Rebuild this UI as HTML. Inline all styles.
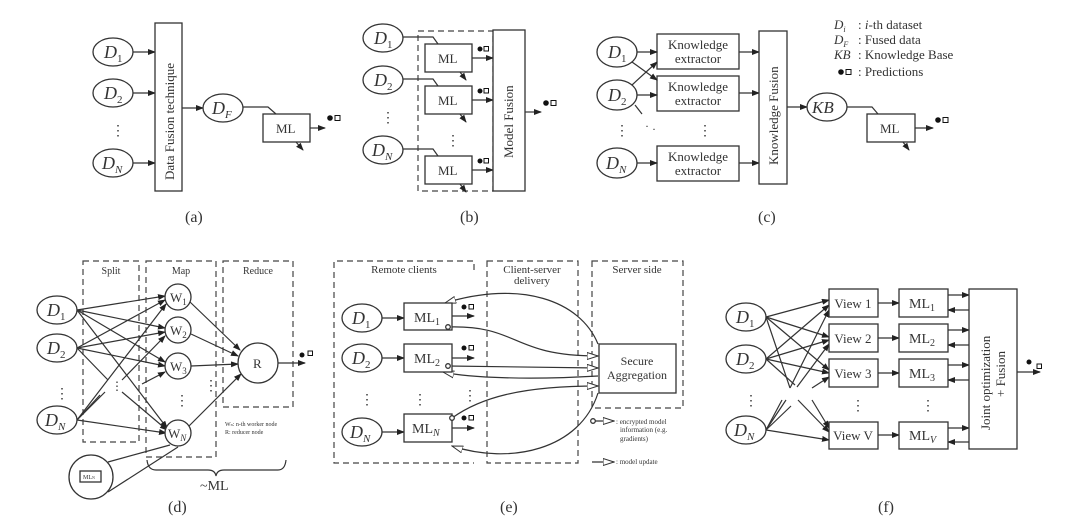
<!DOCTYPE html>
<html><head><meta charset="utf-8"><style>
body{margin:0;background:#fff}
svg{display:block;font-family:"Liberation Serif",serif;fill:#333}
.l{stroke:#333;stroke-width:1.2;fill:none}
.d{stroke:#444;stroke-width:1.2;fill:none;stroke-dasharray:6 4}
.b{stroke:#333;stroke-width:1.3;fill:#fff}
text{fill:#333}
</style></head><body>
<svg width="1080" height="532" viewBox="0 0 1080 532">
<defs>
<marker id="a" markerWidth="8" markerHeight="6" refX="7" refY="3" orient="auto" markerUnits="userSpaceOnUse"><path d="M0,0L8,3L0,6z" fill="#222"/></marker>
<marker id="o" markerWidth="12" markerHeight="8" refX="11" refY="4" orient="auto" markerUnits="userSpaceOnUse"><path d="M0,0.5L11,4L0,7.5z" fill="#fff" stroke="#333"/></marker>
</defs>
<g id="pred"></g>

<!-- (a) -->
<g>
<ellipse class="b" cx="113" cy="52" rx="20" ry="14"/><text x="104" y="58" font-size="18" font-style="italic">D<tspan font-size="11" font-style="normal" dy="4">1</tspan></text>
<ellipse class="b" cx="113" cy="93" rx="20" ry="14"/><text x="104" y="99" font-size="18" font-style="italic">D<tspan font-size="11" font-style="normal" dy="4">2</tspan></text>
<ellipse class="b" cx="113" cy="163" rx="20" ry="14"/><text x="102" y="169" font-size="18" font-style="italic">D<tspan font-size="11" dy="4">N</tspan></text>
<text x="111" y="135" font-size="14">⋮</text>
<line class="l" x1="133" y1="52" x2="155" y2="52" marker-end="url(#a)"/>
<line class="l" x1="133" y1="93" x2="155" y2="93" marker-end="url(#a)"/>
<line class="l" x1="133" y1="163" x2="155" y2="163" marker-end="url(#a)"/>
<rect class="b" x="155" y="23" width="27" height="168"/>
<text transform="translate(174,180) rotate(-90)" font-size="13">Data Fusion technique</text>
<line class="l" x1="182" y1="108" x2="203" y2="108" marker-end="url(#a)"/>
<ellipse class="b" cx="223" cy="108" rx="20" ry="14"/><text x="212" y="114" font-size="18" font-style="italic">D<tspan font-size="11" dy="4">F</tspan></text>
<path class="l" d="M243,107H268L276,114"/>
<rect class="b" x="263" y="114" width="47" height="28"/><text x="276" y="133" font-size="13">ML</text>
<line class="l" x1="296" y1="142" x2="303" y2="150" marker-end="url(#a)"/>
<line class="l" x1="310" y1="128" x2="325" y2="128" marker-end="url(#a)"/>
<circle cx="330" cy="118" r="2.8" fill="#111"/><rect x="335" y="115.5" width="5" height="5" fill="none" stroke="#111"/>
<text x="185" y="222" font-size="16">(a)</text>
</g>

<!-- (b) -->
<g>
<ellipse class="b" cx="383" cy="38" rx="20" ry="14"/><text x="374" y="44" font-size="18" font-style="italic">D<tspan font-size="11" font-style="normal" dy="4">1</tspan></text>
<ellipse class="b" cx="383" cy="80" rx="20" ry="14"/><text x="374" y="86" font-size="18" font-style="italic">D<tspan font-size="11" font-style="normal" dy="4">2</tspan></text>
<ellipse class="b" cx="383" cy="150" rx="20" ry="14"/><text x="372" y="156" font-size="18" font-style="italic">D<tspan font-size="11" dy="4">N</tspan></text>
<text x="381" y="122" font-size="14">⋮</text>
<rect class="d" x="418" y="31" width="75" height="160"/>
<rect class="b" x="425" y="44" width="47" height="28"/><text x="438" y="63" font-size="13">ML</text>
<rect class="b" x="425" y="86" width="47" height="28"/><text x="438" y="105" font-size="13">ML</text>
<rect class="b" x="425" y="156" width="47" height="28"/><text x="438" y="175" font-size="13">ML</text>
<text x="446" y="145" font-size="14">⋮</text>
<path class="l" d="M403,37H433L438,44"/><path class="l" d="M403,79H433L438,86"/><path class="l" d="M403,149H433L438,156"/>
<line class="l" x1="460" y1="72" x2="466" y2="80" marker-end="url(#a)"/><line class="l" x1="460" y1="114" x2="466" y2="122" marker-end="url(#a)"/><line class="l" x1="460" y1="184" x2="466" y2="192" marker-end="url(#a)"/>
<line class="l" x1="472" y1="58" x2="493" y2="58" marker-end="url(#a)"/><line class="l" x1="472" y1="100" x2="493" y2="100" marker-end="url(#a)"/><line class="l" x1="472" y1="170" x2="493" y2="170" marker-end="url(#a)"/>
<circle cx="480" cy="49" r="2.5" fill="#111"/><rect x="484" y="46.5" width="4.5" height="4.5" fill="none" stroke="#111"/>
<circle cx="480" cy="91" r="2.5" fill="#111"/><rect x="484" y="88.5" width="4.5" height="4.5" fill="none" stroke="#111"/>
<circle cx="480" cy="161" r="2.5" fill="#111"/><rect x="484" y="158.5" width="4.5" height="4.5" fill="none" stroke="#111"/>
<rect class="b" x="493" y="30" width="32" height="161"/>
<text transform="translate(513,158) rotate(-90)" font-size="13">Model Fusion</text>
<line class="l" x1="525" y1="112" x2="541" y2="112" marker-end="url(#a)"/>
<circle cx="546" cy="103" r="2.8" fill="#111"/><rect x="551" y="100.5" width="5" height="5" fill="none" stroke="#111"/>
<text x="460" y="222" font-size="16">(b)</text>
</g>

<!-- (c) -->
<g>
<ellipse class="b" cx="617" cy="52" rx="20" ry="15"/><text x="608" y="58" font-size="18" font-style="italic">D<tspan font-size="11" font-style="normal" dy="4">1</tspan></text>
<ellipse class="b" cx="617" cy="95" rx="20" ry="15"/><text x="608" y="101" font-size="18" font-style="italic">D<tspan font-size="11" font-style="normal" dy="4">2</tspan></text>
<ellipse class="b" cx="617" cy="163" rx="20" ry="15"/><text x="606" y="169" font-size="18" font-style="italic">D<tspan font-size="11" dy="4">N</tspan></text>
<text x="615" y="135" font-size="14">⋮</text>
<rect class="b" x="657" y="34" width="82" height="35"/><text x="698" y="49" font-size="13" text-anchor="middle">Knowledge</text><text x="698" y="63" font-size="13" text-anchor="middle">extractor</text>
<rect class="b" x="657" y="76" width="82" height="35"/><text x="698" y="91" font-size="13" text-anchor="middle">Knowledge</text><text x="698" y="105" font-size="13" text-anchor="middle">extractor</text>
<rect class="b" x="657" y="146" width="82" height="35"/><text x="698" y="161" font-size="13" text-anchor="middle">Knowledge</text><text x="698" y="175" font-size="13" text-anchor="middle">extractor</text>
<text x="698" y="135" font-size="14">⋮</text>
<line class="l" x1="637" y1="52" x2="657" y2="52" marker-end="url(#a)"/>
<line class="l" x1="637" y1="95" x2="657" y2="95" marker-end="url(#a)"/>
<line class="l" x1="637" y1="163" x2="657" y2="163" marker-end="url(#a)"/>
<line class="l" x1="632" y1="62" x2="657" y2="80" marker-end="url(#a)"/>
<line class="l" x1="632" y1="85" x2="657" y2="62" marker-end="url(#a)"/>
<path d="M635,105L642,114" class="l"/><text x="645" y="130" font-size="12">·</text><text x="652" y="133" font-size="12">·</text>
<line class="l" x1="739" y1="52" x2="759" y2="52" marker-end="url(#a)"/>
<line class="l" x1="739" y1="93" x2="759" y2="93" marker-end="url(#a)"/>
<line class="l" x1="739" y1="163" x2="759" y2="163" marker-end="url(#a)"/>
<rect class="b" x="759" y="31" width="28" height="153"/>
<text transform="translate(778,165) rotate(-90)" font-size="13">Knowledge Fusion</text>
<line class="l" x1="787" y1="107" x2="807" y2="107" marker-end="url(#a)"/>
<ellipse class="b" cx="827" cy="107" rx="20" ry="14"/><text x="812" y="113" font-size="17" font-style="italic">KB</text>
<path class="l" d="M847,107H872L878,114"/>
<rect class="b" x="867" y="114" width="48" height="28"/><text x="880" y="133" font-size="13">ML</text>
<line class="l" x1="903" y1="142" x2="909" y2="150" marker-end="url(#a)"/>
<line class="l" x1="915" y1="128" x2="933" y2="128" marker-end="url(#a)"/>
<circle cx="938" cy="120" r="2.8" fill="#111"/><rect x="943" y="117.5" width="5" height="5" fill="none" stroke="#111"/>
<text x="758" y="222" font-size="16">(c)</text>
<!-- legend -->
<g font-size="13">
<text x="834" y="29" font-style="italic">D<tspan font-size="8" dy="3">i</tspan></text><text x="858" y="29">: <tspan font-style="italic">i</tspan>-th dataset</text>
<text x="834" y="44" font-style="italic">D<tspan font-size="8" dy="3">F</tspan></text><text x="858" y="44">: Fused data</text>
<text x="834" y="59" font-style="italic">KB</text><text x="858" y="59">: Knowledge Base</text>
<circle cx="841" cy="72" r="2.8" fill="#111"/><rect x="846" y="69.5" width="5" height="5" fill="none" stroke="#111"/><text x="858" y="76">: Predictions</text>
</g>
</g>

<!-- (d) -->
<g>
<rect class="d" x="83" y="261" width="56" height="181"/>
<rect class="d" x="146" y="261" width="70" height="196"/>
<rect class="d" x="223" y="261" width="70" height="146"/>
<text x="111" y="274" font-size="10" text-anchor="middle">Split</text>
<text x="181" y="274" font-size="10" text-anchor="middle">Map</text>
<text x="258" y="274" font-size="10" text-anchor="middle">Reduce</text>
<ellipse class="b" cx="57" cy="310" rx="20" ry="14"/><text x="47" y="316" font-size="18" font-style="italic">D<tspan font-size="11" font-style="normal" dy="4">1</tspan></text>
<ellipse class="b" cx="57" cy="348" rx="20" ry="14"/><text x="47" y="354" font-size="18" font-style="italic">D<tspan font-size="11" font-style="normal" dy="4">2</tspan></text>
<ellipse class="b" cx="57" cy="420" rx="20" ry="14"/><text x="45" y="426" font-size="18" font-style="italic">D<tspan font-size="11" dy="4">N</tspan></text>
<text x="55" y="398" font-size="14">⋮</text>
<g class="l">
<line x1="77" y1="310" x2="165" y2="296" marker-end="url(#a)"/><line x1="77" y1="310" x2="165" y2="328" marker-end="url(#a)"/><line x1="77" y1="310" x2="165" y2="362" marker-end="url(#a)"/><line x1="77" y1="310" x2="167" y2="428" marker-end="url(#a)"/>
<line x1="77" y1="348" x2="165" y2="300" marker-end="url(#a)"/><line x1="77" y1="348" x2="165" y2="332" marker-end="url(#a)"/><line x1="77" y1="348" x2="165" y2="366" marker-end="url(#a)"/><line x1="77" y1="348" x2="108" y2="380"/>
<line x1="77" y1="420" x2="166" y2="304" marker-end="url(#a)"/><line x1="77" y1="420" x2="166" y2="433" marker-end="url(#a)"/><line x1="77" y1="420" x2="100" y2="395"/><line x1="77" y1="420" x2="105" y2="392"/>
<line x1="122" y1="380" x2="165" y2="336" marker-end="url(#a)"/><line x1="142" y1="384" x2="165" y2="372" marker-end="url(#a)"/><line x1="122" y1="392" x2="167" y2="430" marker-end="url(#a)"/>
<line x1="190" y1="302" x2="240" y2="350" marker-end="url(#a)"/><line x1="191" y1="334" x2="238" y2="356" marker-end="url(#a)"/><line x1="191" y1="366" x2="238" y2="364" marker-end="url(#a)"/><line x1="189" y1="426" x2="241" y2="374" marker-end="url(#a)"/>
<line x1="278" y1="363" x2="305" y2="363" marker-end="url(#a)"/>
<line x1="108" y1="462" x2="170" y2="445"/><line x1="108" y1="492" x2="178" y2="447"/>
<path d="M147,460Q148,470 156,470H208Q215,470 216,476Q217,470 224,470H278Q285,470 286,460"/>
</g>
<text x="111" y="390" font-size="12">⋮</text><text x="175" y="405" font-size="14">⋮</text><text x="204" y="390" font-size="14">⋮</text>
<circle class="b" cx="178" cy="297" r="13"/><text x="170" y="302" font-size="13">W<tspan font-size="9" dy="3">1</tspan></text>
<circle class="b" cx="178" cy="330" r="13"/><text x="170" y="335" font-size="13">W<tspan font-size="9" dy="3">2</tspan></text>
<circle class="b" cx="178" cy="366" r="13"/><text x="170" y="371" font-size="13">W<tspan font-size="9" dy="3">3</tspan></text>
<circle class="b" cx="178" cy="433" r="13"/><text x="168" y="438" font-size="13">W<tspan font-size="9" font-style="italic" dy="3">N</tspan></text>
<circle class="b" cx="258" cy="363" r="20"/><text x="253" y="368" font-size="13">R</text>
<circle cx="302" cy="355" r="2.5" fill="#111"/><rect x="308" y="351" width="4.5" height="4.5" fill="none" stroke="#111"/>
<text x="225" y="426" font-size="6">W<tspan font-size="4">n</tspan>: n-th worker node</text><text x="225" y="434" font-size="6">R: reducer node</text>
<circle class="b" cx="91" cy="477" r="22" stroke-width="1.8"/><rect x="80" y="471" width="21" height="11" class="b"/><text x="83" y="479" font-size="6">ML<tspan font-size="4">N</tspan></text>
<text x="200" y="490" font-size="14">~ML</text>
<text x="168" y="512" font-size="16">(d)</text>
</g>

<!-- (e) -->
<g>
<path class="d" d="M474,270V261H334V463H474"/>
<rect class="d" x="487" y="261" width="91" height="202"/>
<rect class="d" x="592" y="261" width="91" height="147"/>
<text x="404" y="273" font-size="11" text-anchor="middle">Remote clients</text>
<text x="532" y="273" font-size="11" text-anchor="middle">Client-server</text><text x="532" y="284" font-size="11" text-anchor="middle">delivery</text>
<text x="637" y="273" font-size="11" text-anchor="middle">Server side</text>
<ellipse class="b" cx="362" cy="318" rx="20" ry="14"/><text x="352" y="324" font-size="18" font-style="italic">D<tspan font-size="11" font-style="normal" dy="4">1</tspan></text>
<ellipse class="b" cx="362" cy="358" rx="20" ry="14"/><text x="352" y="364" font-size="18" font-style="italic">D<tspan font-size="11" font-style="normal" dy="4">2</tspan></text>
<ellipse class="b" cx="362" cy="432" rx="20" ry="14"/><text x="350" y="438" font-size="18" font-style="italic">D<tspan font-size="11" dy="4">N</tspan></text>
<text x="360" y="404" font-size="14">⋮</text><text x="413" y="404" font-size="14">⋮</text><text x="463" y="400" font-size="14">⋮</text>
<g class="l">
<line x1="382" y1="318" x2="404" y2="318" marker-end="url(#a)"/><line x1="382" y1="358" x2="404" y2="358" marker-end="url(#a)"/><line x1="382" y1="432" x2="404" y2="432" marker-end="url(#a)"/>
<line x1="452" y1="316" x2="474" y2="316" marker-end="url(#a)"/><line x1="452" y1="358" x2="474" y2="358" marker-end="url(#a)"/><line x1="452" y1="428" x2="474" y2="428" marker-end="url(#a)"/>
<path d="M448,327C520,325 510,356 598,356" marker-end="url(#o)"/>
<path d="M448,366L598,368" marker-end="url(#o)"/>
<path d="M452,418C480,398 520,386 598,386" marker-end="url(#o)"/>
<path d="M598,344C580,300 520,280 445,303" marker-end="url(#o)"/>
<path d="M598,376C530,380 470,378 443,372" marker-end="url(#o)"/>
<path d="M598,393C580,450 510,465 452,446" marker-end="url(#o)"/>
<path d="M595,421H614" marker-end="url(#o)"/><path d="M592,462H614" marker-end="url(#o)"/>
</g>
<rect class="b" x="404" y="303" width="48" height="27"/><text x="414" y="322" font-size="14">ML<tspan font-size="10" dy="3">1</tspan></text>
<rect class="b" x="404" y="344" width="48" height="28"/><text x="414" y="363" font-size="14">ML<tspan font-size="10" dy="3">2</tspan></text>
<rect class="b" x="404" y="414" width="48" height="28"/><text x="412" y="433" font-size="14">ML<tspan font-size="10" font-style="italic" dy="3">N</tspan></text>
<circle cx="448" cy="327" r="2.3" class="b"/><circle cx="448" cy="366" r="2.3" class="b"/><circle cx="452" cy="418" r="2.3" class="b"/><circle cx="593" cy="421" r="2.3" class="b"/>
<circle cx="464" cy="307" r="2.5" fill="#111"/><rect x="469" y="304.5" width="4.5" height="4.5" fill="none" stroke="#111"/>
<circle cx="464" cy="348" r="2.5" fill="#111"/><rect x="469" y="345.5" width="4.5" height="4.5" fill="none" stroke="#111"/>
<circle cx="464" cy="418" r="2.5" fill="#111"/><rect x="469" y="415.5" width="4.5" height="4.5" fill="none" stroke="#111"/>
<rect class="b" x="599" y="344" width="77" height="49"/><text x="637" y="365" font-size="12" text-anchor="middle">Secure</text><text x="637" y="379" font-size="12" text-anchor="middle">Aggregation</text>
<g font-size="7"><text x="616" y="424">: encrypted model</text><text x="620" y="432">information (e.g.</text><text x="620" y="441">gradients)</text><text x="616" y="464">: model update</text></g>
<text x="500" y="512" font-size="16">(e)</text>
</g>

<!-- (f) -->
<g>
<ellipse class="b" cx="746" cy="317" rx="20" ry="14"/><text x="736" y="323" font-size="18" font-style="italic">D<tspan font-size="11" font-style="normal" dy="4">1</tspan></text>
<ellipse class="b" cx="746" cy="359" rx="20" ry="14"/><text x="736" y="365" font-size="18" font-style="italic">D<tspan font-size="11" font-style="normal" dy="4">2</tspan></text>
<ellipse class="b" cx="746" cy="430" rx="20" ry="14"/><text x="734" y="436" font-size="18" font-style="italic">D<tspan font-size="11" dy="4">N</tspan></text>
<text x="744" y="405" font-size="14">⋮</text>
<g class="l">
<line x1="766" y1="317" x2="829" y2="300" marker-end="url(#a)"/><line x1="766" y1="317" x2="829" y2="337" marker-end="url(#a)"/><line x1="766" y1="317" x2="829" y2="370" marker-end="url(#a)"/><line x1="766" y1="317" x2="790" y2="388"/>
<line x1="766" y1="359" x2="829" y2="305" marker-end="url(#a)"/><line x1="766" y1="359" x2="829" y2="340" marker-end="url(#a)"/><line x1="766" y1="359" x2="829" y2="373" marker-end="url(#a)"/><line x1="766" y1="359" x2="795" y2="385"/>
<line x1="766" y1="430" x2="829" y2="440" marker-end="url(#a)"/><line x1="766" y1="430" x2="782" y2="400"/><line x1="766" y1="430" x2="786" y2="400"/><line x1="766" y1="430" x2="791" y2="406"/>
<line x1="790" y1="388" x2="829" y2="310" marker-end="url(#a)"/><line x1="797" y1="387" x2="829" y2="344" marker-end="url(#a)"/><line x1="812" y1="388" x2="829" y2="377" marker-end="url(#a)"/>
<line x1="798" y1="400" x2="829" y2="432" marker-end="url(#a)"/><line x1="812" y1="400" x2="829" y2="428" marker-end="url(#a)"/>
<line x1="878" y1="303" x2="899" y2="303" marker-end="url(#a)"/><line x1="878" y1="338" x2="899" y2="338" marker-end="url(#a)"/><line x1="878" y1="373" x2="899" y2="373" marker-end="url(#a)"/><line x1="878" y1="435" x2="899" y2="435" marker-end="url(#a)"/>
<line x1="948" y1="295" x2="969" y2="295" marker-end="url(#a)"/><line x1="969" y1="310" x2="948" y2="310" marker-end="url(#a)"/>
<line x1="948" y1="330" x2="969" y2="330" marker-end="url(#a)"/><line x1="969" y1="345" x2="948" y2="345" marker-end="url(#a)"/>
<line x1="948" y1="365" x2="969" y2="365" marker-end="url(#a)"/><line x1="969" y1="380" x2="948" y2="380" marker-end="url(#a)"/>
<line x1="948" y1="428" x2="969" y2="428" marker-end="url(#a)"/><line x1="969" y1="442" x2="948" y2="442" marker-end="url(#a)"/>
<line x1="1017" y1="372" x2="1040" y2="372" marker-end="url(#a)"/>
</g>
<rect class="b" x="829" y="289" width="49" height="28"/><text x="853" y="308" font-size="13" text-anchor="middle">View 1</text>
<rect class="b" x="829" y="324" width="49" height="28"/><text x="853" y="343" font-size="13" text-anchor="middle">View 2</text>
<rect class="b" x="829" y="359" width="49" height="28"/><text x="853" y="378" font-size="13" text-anchor="middle">View 3</text>
<rect class="b" x="829" y="422" width="49" height="27"/><text x="853" y="440" font-size="13" text-anchor="middle">View V</text>
<text x="851" y="410" font-size="14">⋮</text><text x="921" y="410" font-size="14">⋮</text>
<rect class="b" x="899" y="289" width="49" height="28"/><text x="909" y="308" font-size="14">ML<tspan font-size="10" dy="3">1</tspan></text>
<rect class="b" x="899" y="324" width="49" height="28"/><text x="909" y="343" font-size="14">ML<tspan font-size="10" dy="3">2</tspan></text>
<rect class="b" x="899" y="359" width="49" height="28"/><text x="909" y="378" font-size="14">ML<tspan font-size="10" dy="3">3</tspan></text>
<rect class="b" x="899" y="422" width="49" height="27"/><text x="909" y="440" font-size="14">ML<tspan font-size="10" font-style="italic" dy="3">V</tspan></text>
<rect class="b" x="969" y="289" width="48" height="160"/>
<text transform="translate(990,430) rotate(-90)" font-size="13">Joint optimization</text>
<text transform="translate(1005,397) rotate(-90)" font-size="13">+ Fusion</text>
<circle cx="1029" cy="362" r="2.5" fill="#111"/><rect x="1037" y="364" width="4.5" height="4.5" fill="none" stroke="#111"/>
<text x="878" y="512" font-size="16">(f)</text>
</g>
</svg>
</body></html>
